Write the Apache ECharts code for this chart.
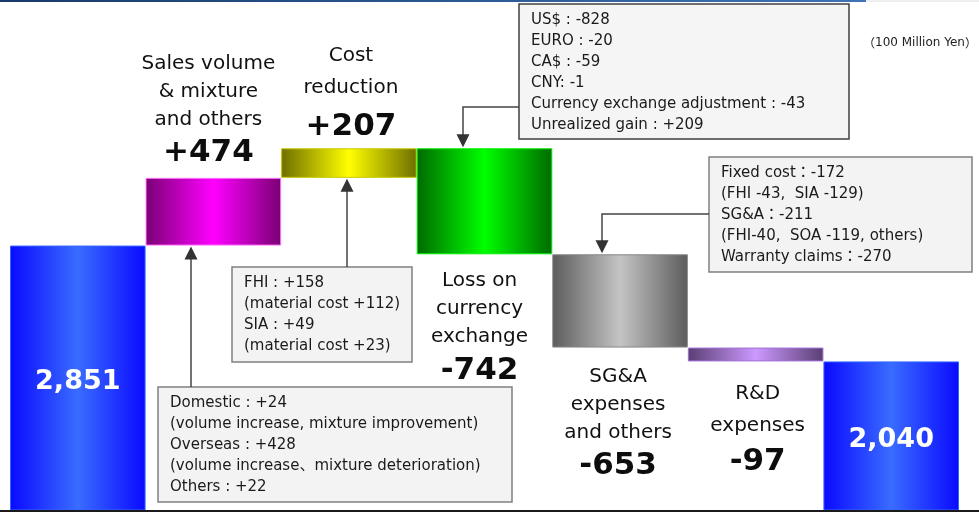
<!DOCTYPE html>
<html>
<head>
<meta charset="utf-8">
<script src="https://cdn.jsdelivr.net/npm/echarts@6/dist/echarts.min.js"></script>
<style>
html,body{margin:0;padding:0;background:#fff;}
#chart{width:979px;height:512px;}
</style>
</head>
<body>
<div id="chart"></div>
<script>
// ---- data ----
var categories = ['Start', 'Sales volume\n& mixture\nand others', 'Cost\nreduction', 'Loss on\ncurrency\nexchange', 'SG&A\nexpenses\nand others', 'R&D\nexpenses', 'End'];
var values = [2851, 474, 207, -742, -653, -97, 2040];
var isTotal = [true, false, false, false, false, false, true];
var unitLabel = '100 Million Yen';
var noteCurrency = ['US$ : -828', 'EURO : -20', 'CA$ : -59', 'CNY: -1', 'Currency exchange adjustment : -43', 'Unrealized gain : +209'];
var noteSGA = ['Fixed cost：-172', '(FHI -43,  SIA -129)', 'SG&A：-211', '(FHI-40,  SOA -119, others)', 'Warranty claims：-270'];
var noteCost = ['FHI : +158', '(material cost +112)', 'SIA : +49', '(material cost +23)'];
var noteSales = ['Domestic : +24', '(volume increase, mixture improvement)', 'Overseas : +428', '(volume increase、mixture deterioration)', 'Others : +22'];

// ---- styles ----
function grad(edge, mid) {
  return new echarts.graphic.LinearGradient(0, 0, 1, 0, [
    {offset: 0, color: edge}, {offset: 0.5, color: mid}, {offset: 1, color: edge}
  ]);
}
var barStyles = [
  {color: grad('#0a0aff', '#3a6cff'), borderColor: '#3366ff'},
  {color: grad('#7a0074', '#ff00ff'), borderColor: '#ff70ff'},
  {color: grad('#6e6e00', '#ffff00'), borderColor: '#c8c800'},
  {color: grad('#006a00', '#00ff00'), borderColor: '#00ee00'},
  {color: grad('#5c5c5c', '#c4c4c4'), borderColor: '#888888'},
  {color: grad('#5a3e72', '#cc99ff'), borderColor: '#a070d8'},
  {color: grad('#0a0aff', '#3a6cff'), borderColor: '#3366ff'}
];
// label layout per bar: [position, distance, name line height, value line height, dx, dy]
var labelLayout = [
  ['inside', 0, 0, 0, 0, 4],
  ['top', 9, 28, 39, -5, 4],
  ['top', 6, 32, 46, 2, 8],
  ['bottom', 11, 28, 41, -5, 1.5],
  ['bottom', 13, 28, 38, -2, 2],
  ['bottom', 14, 32, 41, 2, 2.5],
  ['inside', 0, 0, 0, 0, 4]
];

// ---- waterfall computation ----
var baseData = [], barData = [];
var running = 0;
values.forEach(function (v, i) {
  var item;
  var st = barStyles[i];
  var L = labelLayout[i];
  if (isTotal[i]) {
    baseData.push(0);
    running = v;
    item = {
      value: v,
      itemStyle: {color: st.color, borderColor: st.borderColor, borderWidth: 1},
      label: {
        show: true, position: 'inside', color: '#ffffff', offset: [L[4], L[5]],
        fontFamily: 'DejaVu Sans', fontWeight: 'bold', fontSize: 27,
        formatter: v.toLocaleString('en-US')
      }
    };
  } else {
    var lo = v >= 0 ? running : running + v;
    baseData.push(lo);
    running += v;
    var nameLines = categories[i].split('\n').map(function (s) { return '{n|' + s + '}'; }).join('\n');
    var valStr = (v > 0 ? '+' : '') + v;
    item = {
      value: Math.abs(v),
      itemStyle: {color: st.color, borderColor: st.borderColor, borderWidth: 1},
      label: {
        show: true, position: L[0], distance: L[1], offset: [L[4], L[5]],
        formatter: nameLines + '\n{v|' + valStr + '}',
        rich: {
          n: {fontFamily: 'DejaVu Sans', fontSize: 20, color: '#111111', lineHeight: L[2], align: 'center'},
          v: {fontFamily: 'DejaVu Sans', fontWeight: 'bold', fontSize: 31, color: '#0d0d0d', lineHeight: L[3], align: 'center'}
        }
      }
    };
  }
  barData.push(item);
});

var chart = echarts.init(document.getElementById('chart'), null, {renderer: 'canvas'});
var option = {
  animation: false,
  backgroundColor: '#ffffff',
  grid: {left: 10, right: 20, top: 10, bottom: 2, containLabel: false},
  xAxis: {
    type: 'category', data: categories,
    axisLine: {show: false}, axisTick: {show: false}, axisLabel: {show: false}, splitLine: {show: false}
  },
  yAxis: {
    type: 'value', min: 1000, max: 4500,
    axisLine: {show: false}, axisTick: {show: false}, axisLabel: {show: false}, splitLine: {show: false}
  },
  series: [
    {type: 'bar', stack: 'w', data: baseData, itemStyle: {color: 'transparent'}, barCategoryGap: '0%', silent: true},
    {type: 'bar', stack: 'w', data: barData, barCategoryGap: '0%', clip: true}
  ]
};
chart.setOption(option);

// ---- annotations (layout) ----
function box(x, y, w, h, lines, stroke, fill) {
  return {
    type: 'group', z: 50,
    children: [
      {type: 'rect', shape: {x: x, y: y, width: w, height: h}, style: {fill: fill, stroke: stroke, lineWidth: 1.5}},
      {type: 'text', x: x + 12, y: y + 6, style: {text: lines.join('\n'), font: '15px "DejaVu Sans", "Noto Sans CJK JP"', fill: '#1a1a1a', lineHeight: 21}}
    ]
  };
}
function arrow(points, tipX, tipY, dir) {
  var hy = dir === 'up' ? tipY + 13 : tipY - 13;
  return {
    type: 'group', z: 50,
    children: [
      {type: 'polyline', shape: {points: points}, style: {stroke: '#444444', lineWidth: 1.5, fill: null}},
      {type: 'polygon', shape: {points: [[tipX - 6.5, hy], [tipX + 6.5, hy], [tipX, tipY]]}, style: {fill: '#333333'}}
    ]
  };
}
function py(v) { return chart.convertToPixel({yAxisIndex: 0}, v); }
var ySalesBottom = py(values[0]);
var yCostBottom = py(values[0] + values[1]);
var yPeak = py(values[0] + values[1] + values[2]);
var yFxBottom = py(values[0] + values[1] + values[2] + values[3]);

chart.setOption({
  graphic: [
    {type: 'rect', z: 60, shape: {x: 0, y: 0, width: 866, height: 2},
      style: {fill: new echarts.graphic.LinearGradient(0, 0, 1, 0, [{offset: 0, color: '#183a6b'}, {offset: 1, color: '#3d74b5'}])}},
    {type: 'rect', z: 60, shape: {x: 866, y: 0, width: 113, height: 2}, style: {fill: '#eeeeee'}},
    {type: 'rect', z: 60, shape: {x: 0, y: 510, width: 979, height: 2}, style: {fill: '#1a1a1a'}},
    {type: 'text', z: 60, x: 863, y: 43, style: {
      text: '{p|（}{t|' + unitLabel + '}{p|）}', verticalAlign: 'middle',
      rich: {
        p: {fontFamily: 'Noto Sans CJK JP', fontSize: 12, fill: '#222222'},
        t: {fontFamily: 'DejaVu Sans', fontSize: 12, fill: '#222222'}
      }
    }},
    box(519, 4, 330, 135, noteCurrency, '#404040', '#f5f5f5'),
    box(709, 157, 263, 115, noteSGA, '#808080', '#f3f3f3'),
    box(232, 267, 180, 95, noteCost, '#808080', '#f3f3f3'),
    box(158, 387, 354, 115, noteSales, '#808080', '#f3f3f3'),
    arrow([[191, 387], [191, ySalesBottom + 12]], 191, ySalesBottom + 1, 'up'),
    arrow([[347, 267], [347, yCostBottom + 12]], 347, yCostBottom + 1, 'up'),
    arrow([[519, 107], [463, 107], [463, yPeak - 12]], 463, yPeak - 1, 'down'),
    arrow([[709, 214], [602, 214], [602, yFxBottom - 12]], 602, yFxBottom - 1, 'down')
  ]
});
</script>
</body>
</html>
